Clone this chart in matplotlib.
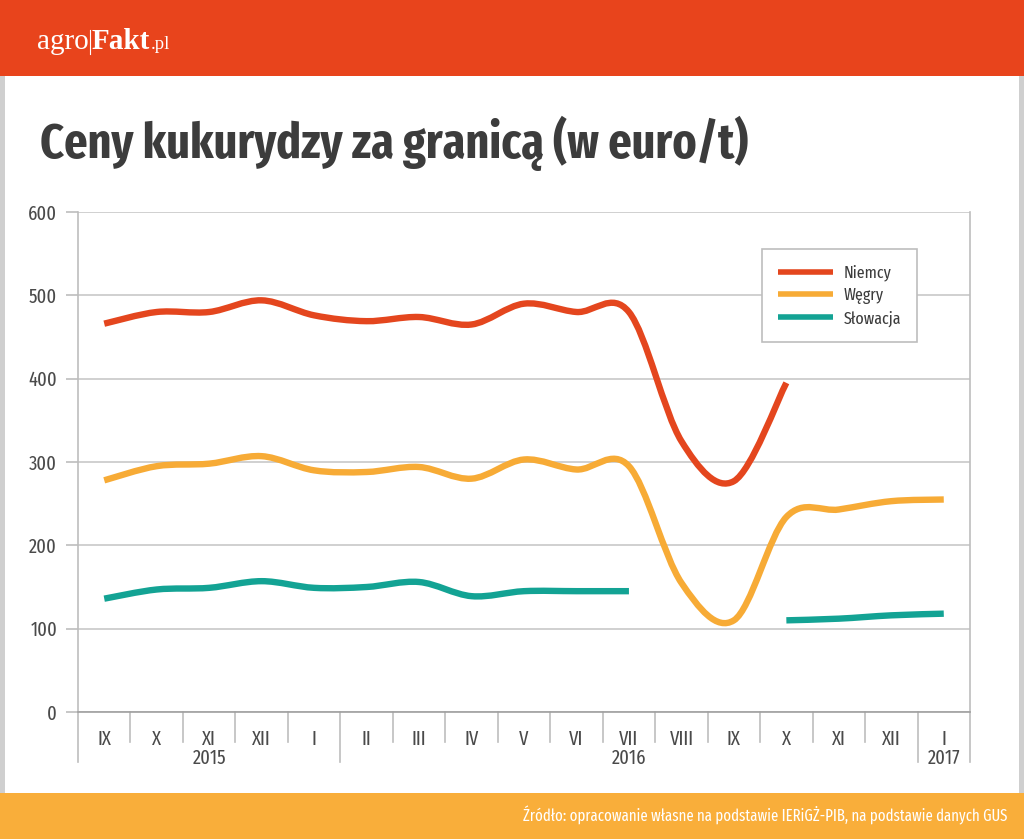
import os
import matplotlib
matplotlib.use('Agg')
import matplotlib.pyplot as plt
from matplotlib import font_manager as fm
from matplotlib.path import Path
from matplotlib.patches import PathPatch, Rectangle
from matplotlib.lines import Line2D
from matplotlib.transforms import blended_transform_factory

# ---------------- data ----------------
months = ['IX', 'X', 'XI', 'XII', 'I', 'II', 'III', 'IV', 'V', 'VI', 'VII',
          'VIII', 'IX', 'X', 'XI', 'XII', 'I']
years = ['2015', '2016', '2017']
year_first = [0, 5, 16]
year_last = [4, 15, 16]
niemcy = [466, 480, 480, 494, 476, 469, 474, 465, 490, 480, 480,
          325, 277, 395, None, None, None]
wegry = [278, 295, 298, 307, 290, 288, 294, 280, 303, 291, 295,
         155, 110, 234, 243, 253, 255]
slowacja = [136, 147, 149, 157, 149, 150, 156, 139, 145, 145, 145,
            None, None, 110, 112, 116, 118]
series_names = ['Niemcy', 'Węgry', 'Słowacja']
series_values = [niemcy, wegry, slowacja]
series_colors = ['#E4461E', '#F7AB36', '#13A394']
yticks = [0, 100, 200, 300, 400, 500, 600]

title = 'Ceny kukurydzy za granicą (w euro/t)'
source = 'Źródło: opracowanie własne na podstawie IERiGŻ-PIB, na podstawie danych GUS'


# ---------------- fonts ----------------
def pick_font(bold, want):
    best, best_key = None, None
    for f in fm.fontManager.ttflist:
        if f.style != 'normal':
            continue
        fn = os.path.basename(f.fname).lower()
        nm = f.name.lower()
        cond = (str(f.stretch) != 'normal' or 'condensed' in fn or 'narrow' in fn
                or 'condensed' in nm or 'narrow' in nm)
        if not cond or 'expanded' in fn:
            continue
        if 'extracondensed' in fn or 'extra condensed' in nm or 'extracond' in fn:
            kind = 'extra'
        elif 'semicondensed' in fn or 'semi' in nm or 'semicond' in fn:
            kind = 'semi'
        else:
            kind = 'cond'
        order = {'title': ['extra', 'cond', 'semi'], 'text': ['cond', 'extra', 'semi']}[want]
        w = f.weight if isinstance(f.weight, (int, float)) else fm.weight_dict.get(f.weight, 400)
        target = 700 if bold else 400
        fam_pref = ['roboto condensed', 'noto sans', 'open sans', 'dejavu sans',
                    'liberation sans narrow']
        fr = next((i for i, p in enumerate(fam_pref) if nm.startswith(p)), 9)
        key = (order.index(kind), abs(w - target), fr)
        if best_key is None or key < best_key:
            best, best_key = f, key
    if best is None:
        return fm.FontProperties(family='DejaVu Sans', weight='bold' if bold else 'normal')
    return fm.FontProperties(fname=best.fname)


def sized(fp, size):
    p = fp.copy()
    p.set_size(size)
    return p


F_TITLE = pick_font(True, 'title')
F_NARROW = pick_font(False, 'title')
F_SERIF = fm.FontProperties(family=['Liberation Serif', 'DejaVu Serif'])
F_SERIF_B = fm.FontProperties(family=['Liberation Serif', 'DejaVu Serif'], weight='bold')

# ---------------- figure ----------------
W, H = 1024, 839
fig = plt.figure(figsize=(W / 100, H / 100), dpi=100)
fig.patch.set_facecolor('white')


def fx(px):
    return px / W


def fy(py):
    return 1 - py / H


# background bands
fig.patches.append(Rectangle((0, fy(76)), 1, 76 / H, transform=fig.transFigure,
                             facecolor='#E8441C', edgecolor='none', zorder=0))
fig.patches.append(Rectangle((0, 0), 1, fy(793), transform=fig.transFigure,
                             facecolor='#F9AE3A', edgecolor='none', zorder=0))
fig.patches.append(Rectangle((0, fy(793)), 5 / W, (793 - 76) / H, transform=fig.transFigure,
                             facecolor='#CFCFCF', edgecolor='none', zorder=0))
fig.patches.append(Rectangle((fx(1019), fy(793)), 5 / W, (793 - 76) / H,
                             transform=fig.transFigure,
                             facecolor='#CFCFCF', edgecolor='none', zorder=0))

renderer = fig.canvas.get_renderer()


def right_px(t):
    bb = t.get_window_extent(renderer)
    return bb.x1


# logo
t1 = fig.text(fx(37), fy(49), 'agro', color='white', fontproperties=sized(F_SERIF, 21),
              va='baseline', ha='left')
x1 = right_px(t1)
fig.add_artist(Line2D([(x1 + 1.5) / W] * 2, [fy(30), fy(54)], transform=fig.transFigure,
                      color='white', lw=0.8))
t2 = fig.text((x1 + 3) / W, fy(49), 'Fakt', color='white', fontproperties=sized(F_SERIF_B, 21),
              va='baseline', ha='left')
x2 = right_px(t2)
fig.text((x2 + 0.5) / W, fy(49), '.pl', color='white', fontproperties=sized(F_SERIF, 13.5),
         va='baseline', ha='left')

# title (fit width 40..748 px)
tt = fig.text(fx(40), fy(158), title, color='#3C3C3C', fontproperties=sized(F_TITLE, 40),
              va='baseline', ha='left')
bb = tt.get_window_extent(renderer)
tt.set_fontproperties(sized(F_TITLE, 40 * 708 / bb.width))

# source (fit width 522..1007 px)
ts = fig.text(fx(1007), fy(821), source, color='white', fontproperties=sized(F_NARROW, 12),
              va='baseline', ha='right')
bb = ts.get_window_extent(renderer)
ts.set_fontproperties(sized(F_NARROW, 12 * 485 / bb.width))

# ---------------- axes ----------------
ax = fig.add_axes([fx(78), fy(712), 892 / W, 500 / H])
ax.set_xlim(-0.5, len(months) - 0.5)
ax.set_ylim(0, 600)
ax.set_facecolor('white')
ax.spines['top'].set_visible(False)
ax.spines['left'].set_color('#BDBDBD')
ax.spines['right'].set_color('#BDBDBD')
ax.spines['bottom'].set_color('#A0A0A0')
for s in ['left', 'right', 'bottom']:
    ax.spines[s].set_linewidth(1.2)

ax.set_yticks(yticks, labels=[str(v) for v in yticks])
ax.set_xticks([])
ax.tick_params(axis='y', direction='out', length=9, width=1.2, color='#BDBDBD', pad=6,
               labelcolor='#4A4A4A')
for lab in ax.get_yticklabels():
    lab.set_fontproperties(sized(F_NARROW, 14.5))
ax.yaxis.grid(True, color='#C8C8C8', lw=1.2)
ax.set_axisbelow(True)

# category separators and labels
trans = blended_transform_factory(ax.transData, ax.transAxes)
long_bounds = [year_first[i] - 0.5 for i in range(len(years))] + [len(months) - 0.5]
for k in range(len(months) + 1):
    xb = k - 0.5
    is_long = any(abs(xb - lb) < 1e-9 for lb in long_bounds)
    ax.add_line(Line2D([xb, xb], [0, -0.1 if is_long else -0.06], transform=trans,
                       color='#BDBDBD', lw=1.2, clip_on=False))
for i, m in enumerate(months):
    ax.text(i, -0.054, m, transform=trans, ha='center', va='center',
            color='#4A4A4A', fontproperties=sized(F_NARROW, 14.5))
for y, a, b in zip(years, year_first, year_last):
    ax.text((a + b) / 2, -0.092, y, transform=trans, ha='center', va='center',
            color='#4A4A4A', fontproperties=sized(F_NARROW, 14.5))


# smoothed lines (Excel-like Bezier through the data points)
def smooth_path(xs, ys):
    verts = [(xs[0], ys[0])]
    codes = [Path.MOVETO]
    n = len(xs)
    for i in range(n - 1):
        x0, y0 = xs[i], ys[i]
        x1_, y1_ = xs[i + 1], ys[i + 1]
        xm, ym = (xs[i - 1], ys[i - 1]) if i > 0 else (x0, y0)
        xp, yp = (xs[i + 2], ys[i + 2]) if i + 2 < n else (x1_, y1_)
        c1 = (x0 + (x1_ - xm) / 6, y0 + (y1_ - ym) / 6)
        c2 = (x1_ - (xp - x0) / 6, y1_ - (yp - y0) / 6)
        verts += [c1, c2, (x1_, y1_)]
        codes += [Path.CURVE4] * 3
    return Path(verts, codes)


LW = 4.6
handles = []
for name, vals, col in zip(series_names, series_values, series_colors):
    runs, cur = [], []
    for i, v in enumerate(vals):
        if v is None:
            if cur:
                runs.append(cur)
            cur = []
        else:
            cur.append(i)
    if cur:
        runs.append(cur)
    for r in runs:
        xs = list(r)
        ys = [vals[i] for i in r]
        ax.add_patch(PathPatch(smooth_path(xs, ys), facecolor='none', edgecolor=col,
                               lw=LW, capstyle='butt', joinstyle='round', zorder=3,
                               transform=ax.transData))
    handles.append(Line2D([], [], color=col, lw=LW - 0.6, solid_capstyle='butt'))

leg = ax.legend(handles, series_names, loc='upper left', bbox_to_anchor=(0.767, 0.926),
                borderaxespad=0, frameon=True, fancybox=False, framealpha=1,
                edgecolor='#BDBDBD', prop=sized(F_NARROW, 12.5), handlelength=3.2,
                handletextpad=0.6, labelspacing=0.36, borderpad=0.9)
leg.get_frame().set_linewidth(1.2)
for t in leg.get_texts():
    t.set_color('#3C3C3C')

fig.savefig('out.png', dpi=100, facecolor='white')
